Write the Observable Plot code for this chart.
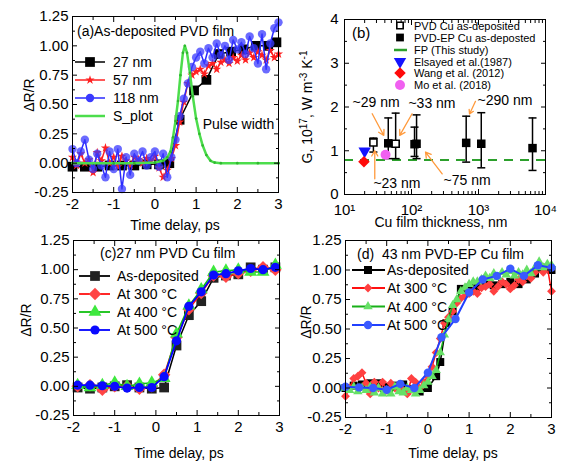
<!DOCTYPE html>
<html><head><meta charset="utf-8">
<script src="https://cdn.jsdelivr.net/npm/d3@7"></script>
<script src="https://cdn.jsdelivr.net/npm/@observablehq/plot@0.6"></script>
<style>
body{margin:0;background:#fff;}
#fig{position:relative;width:576px;height:469px;background:#fff;}
#fig > svg{position:absolute;overflow:visible;}
#fig [aria-label$="tick label"]{font-size:15px;font-weight:normal;}
#fig text{font-weight:normal;}
</style></head><body><div id="fig"></div>
<script>
// ---------------- DATA ----------------
// Panel (a)
const a27Time = [-2.0,-1.7,-1.4,-1.1,-0.8,-0.5,-0.2,0.1,0.35,0.6,0.95,1.25,1.55,1.85,2.15,2.45,2.75,2.95];
const a27Val  = [-0.03,-0.03,-0.03,-0.02,-0.02,-0.02,-0.01,-0.01,0.0,0.37,0.62,0.71,0.93,0.95,0.97,1.0,1.0,1.03];
const tFine = [-2.0,-1.9,-1.8,-1.7,-1.6,-1.5,-1.4,-1.3,-1.2,-1.1,-1.0,-0.9,-0.8,-0.7,-0.6,-0.5,-0.4,-0.3,-0.2,-0.1,0.0,0.1,0.2,0.3,0.4,0.5,0.6,0.7,0.8,0.9,1.0,1.1,1.2,1.3,1.4,1.5,1.6,1.7,1.8,1.9,2.0,2.1,2.2,2.3,2.4,2.5,2.6,2.7,2.8,2.9,3.0];
const a57Val = [0.05,-0.02,0.08,0.0,0.03,-0.08,0.09,0.02,0.13,0.0, 0.05,-0.03,0.06,0.02,-0.02,0.05,0.03,0.0,0.04,0.02, 0.06,-0.04,-0.12,-0.06,0.04,0.15,0.35,0.52,0.68,0.75, 0.78,0.8,0.76,0.83,0.85,0.8,0.86,0.88,0.85,0.9, 0.87,0.92,0.88,0.94,0.9,0.95,0.92,0.88,0.96,0.9, 0.93];
const a118Val = [0.12,0.0,0.1,0.2,0.03,-0.05,0.08,-0.02,-0.12,0.1, -0.05,0.12,-0.22,0.05,-0.1,0.08,0.02,0.1,-0.02,0.05, 0.1,-0.03,0.08,-0.12,0.05,0.2,0.4,0.55,0.68,0.82, 0.9,0.95,0.85,0.98,0.9,1.02,0.92,1.0,0.88,1.05, 0.97,1.03,0.93,1.08,0.98,0.85,1.1,0.8,1.02,1.15, 1.2];
const sTime = [-2.0,-1.0,-0.5,0.0,0.2,0.3,0.38,0.44,0.5,0.56,0.62,0.68,0.727,0.78,0.85,0.92,1.0,1.08,1.16,1.25,1.35,1.45,1.6,2.0,2.5,3.0];
const sVal  = [0,0,0,0.005,0.02,0.05,0.1,0.22,0.36,0.53,0.75,0.94,1.0,0.94,0.77,0.57,0.38,0.25,0.15,0.07,0.02,0.005,0,0,0,0];
const annotA = [{x: 1.16, y: 0.33, text: "Pulse width"}];

// Panel (b)
const pvdThick = [27, 58];
const pvdG = [1.19, 1.16];
const pvdLo = [0.97, 0.82];
const pvdHi = [1.29, 1.86];
const epThick = [45, 111, 119, 655, 1100, 6400];
const epG  = [1.17, 1.15, 1.16, 1.18, 1.16, 1.06];
const epLo = [0.82, 0.87, 0.82, 0.74, 0.61, 0.55];
const epHi = [1.75, 1.54, 1.82, 1.79, 1.87, 1.75];
const fpG = [0.79];
const elsayed = [{t: 20, g: 0.99}];
const wang = [{t: 19.5, g: 0.75}];
const mo = [{t: 41, g: 0.91}];
const labelsB = [
  {x: 13.2, y: 2.11, text: "~29 nm"},
  {x: 90, y: 2.08, text: "~33 nm"},
  {x: 966, y: 2.15, text: "~290 nm"},
  {x: 27, y: 0.25, text: "~23 nm"},
  {x: 301, y: 0.32, text: "~75 nm"}
];
const arrowsB = [
  {x1: 25.9, y1: 1.845, x2: 38.6, y2: 1.35},
  {x1: 102, y1: 1.845, x2: 66.8, y2: 1.35},
  {x1: 28.3, y1: 0.36, x2: 28.3, y2: 1.0},
  {x1: 287, y1: 0.47, x2: 162, y2: 0.97},
  {x1: 902, y1: 2.13, x2: 735, y2: 1.84}
];

// Panel (c)
const tC = [-1.9,-1.6,-1.3,-1.0,-0.7,-0.4,-0.1,0.2,0.5,0.8,1.1,1.4,1.7,2.0,2.3,2.6,2.9];
const cAsDep = [-0.01,-0.02,-0.01,0.0,0.01,-0.01,-0.02,-0.01,0.35,0.61,0.73,0.93,0.95,0.96,1.02,1.0,1.02];
const c300 = [0.0,0.01,-0.03,0.0,0.0,-0.02,0.0,0.1,0.42,0.66,0.8,0.95,0.94,0.97,0.99,1.02,1.0];
const c400 = [0.01,-0.01,0.01,0.03,0.0,0.02,0.03,0.07,0.45,0.69,0.83,0.98,0.99,1.0,0.98,0.98,1.04];
const c500 = [0.01,0.01,0.005,0.0,-0.015,-0.01,-0.01,0.083,0.39,0.686,0.81,0.954,0.966,0.99,1.01,1.0,1.02];

// Panel (d)
const tDAs = [-2.0,-1.8,-1.6,-1.4,-1.2,-1.0,-0.8,-0.6,-0.4,-0.2,0.0,0.2,0.3,0.45,0.6,0.8,1.0,1.2,1.4,1.6,1.8,2.0,2.2,2.4,2.6,2.8,3.0];
const dAsDep = [0.0,0.02,0.03,0.04,0.04,0.01,0.02,0.03,-0.01,-0.03,0.0,0.1,0.22,0.55,0.65,0.84,0.85,0.86,0.88,0.87,0.88,0.9,0.88,0.92,0.97,1.02,1.0];
const d300 = [-0.07,0.0,0.08,0.1,0.13,0.04,-0.05,0.05,0.0,0.05, -0.02,0.04,0.0,0.03,-0.02,-0.05,0.08,0.05,0.0,0.05, 0.1,0.18,0.3,0.42,0.55,0.6,0.65,0.72,0.76,0.78, 0.8,0.82,0.8,0.85,0.86,0.88,0.82,0.86,0.9,0.88, 0.84,0.87,0.92,0.9,0.95,0.93,0.98,1.05,0.98,1.02, 0.82];
const d400 = [0.0,-0.02,0.01,-0.03,0.0,-0.02,0.01,-0.04,0.0,-0.05, -0.02,-0.05,0.01,-0.03,-0.04,0.0,-0.02,-0.05,-0.02,0.02, 0.05,0.1,0.15,0.3,0.45,0.58,0.7,0.75,0.82,0.85, 0.88,0.9,0.9,0.92,0.95,0.93,0.97,0.94,0.98,0.96, 0.99,0.95,0.98,0.96,1.0,0.97,1.02,1.07,1.02,1.05, 1.04];
const tD500 = [-2.0,-1.67,-1.33,-1.0,-0.67,-0.33,0.0,0.33,0.67,1.0,1.33,1.67,2.0,2.33,2.67,3.0];
const d500 = [0.01,0.005,0.0,-0.015,0.035,0.0,0.13,0.43,0.585,0.81,0.92,0.95,1.01,0.95,1.04,1.02];

// Tick values
const timeMajor = [-2,-1,0,1,2,3];
const timeMinor = [-1.5,-0.5,0.5,1.5,2.5];
const drMajor = [-0.25,0,0.25,0.5,0.75,1,1.25];
const drMinor = [-0.125,0.125,0.375,0.625,0.875,1.125];
const thickMajor = [10,100,1000,10000];
const thickMinor = [20,30,40,50,60,70,80,90,200,300,400,500,600,700,800,900,2000,3000,4000,5000,6000,7000,8000,9000];
const gMajor = [0,1,2,3,4];
const gMinor = [0.5,1.5,2.5,3.5];

// ---------------- HELPERS ----------------
const FONT = '"Liberation Sans", Arial, Helvetica, sans-serif';
const zipT = (t, v) => t.map((d, i) => ({t: d, v: v[i]}));
const blank = () => "";
function boxAxes(xMaj, xMin, yMaj, yMin, xFmt, yFmt, xPad = 11, yPad = 9) {
  return [
    Plot.axisX(xMaj, {anchor: "bottom", tickSize: -5, tickPadding: xPad, tickFormat: xFmt, label: null, fontSize: 15}),
    Plot.axisX(xMin, {anchor: "bottom", tickSize: -3, tickFormat: blank, label: null}),
    Plot.axisX(xMaj, {anchor: "top", tickSize: -5, tickFormat: blank, label: null}),
    Plot.axisX(xMin, {anchor: "top", tickSize: -3, tickFormat: blank, label: null}),
    Plot.axisY(yMaj, {anchor: "left", tickSize: -5, tickPadding: yPad, tickFormat: yFmt, label: null, fontSize: 15}),
    Plot.axisY(yMin, {anchor: "left", tickSize: -3, tickFormat: blank, label: null}),
    Plot.axisY(yMaj, {anchor: "right", tickSize: -5, tickFormat: blank, label: null}),
    Plot.axisY(yMin, {anchor: "right", tickSize: -3, tickFormat: blank, label: null})
  ];
}
const baseStyle = {background: "transparent", fontFamily: FONT, fontSize: "15px", overflow: "visible", color: "black"};
const fmt2 = d => d.toFixed(2);
const fmtInt = d => String(d);
const sup = {1: "¹", 2: "²", 3: "³", 4: "⁴"};
const fmtPow = d => "10" + sup[Math.round(Math.log10(d))];
const capSym = {draw(ctx, size) { const w = Math.sqrt(size / Math.PI); ctx.moveTo(-w, 0); ctx.lineTo(w, 0); }};
const fig = document.getElementById("fig");
function place(svg, left, top) { svg.style.left = left + "px"; svg.style.top = top + "px"; fig.appendChild(svg); }

// ---------------- PANEL A ----------------
const dA27 = zipT(a27Time, a27Val), dA57 = zipT(tFine, a57Val), dA118 = zipT(tFine, a118Val), dS = zipT(sTime, sVal);
place(Plot.plot({
  width: 288, height: 234, marginTop: 16, marginLeft: 72, marginRight: 10, marginBottom: 42,
  x: {domain: [-2, 3]}, y: {domain: [-0.25, 1.25]}, style: baseStyle,
  marks: [
    Plot.line(dA27, {x: "t", y: "v", stroke: "black", strokeWidth: 1.5}),
    Plot.dot(dA27, {x: "t", y: "v", symbol: "square", r: 5.5, fill: "black"}),
    Plot.line(dA57, {x: "t", y: "v", stroke: "#ff2020", strokeWidth: 1.5}),
    Plot.dot(dA57, {x: "t", y: "v", symbol: "star", r: 2.9, fill: "#ff2020"}),
    Plot.line(dA118, {x: "t", y: "v", stroke: "#2a2aff", strokeWidth: 1.5}),
    Plot.dot(dA118, {x: "t", y: "v", symbol: "circle", r: 4.2, fill: "#3a3aff", fillOpacity: 0.75}),
    Plot.line(dS, {x: "t", y: "v", stroke: "#4cdd4c", strokeWidth: 2.5}),
    Plot.dot(dS, {x: "t", y: "v", r: 1.3, fill: "#2fb82f"}),
    Plot.text(annotA, {x: "x", y: "y", text: "text", textAnchor: "start", fontSize: 14}),
    ...boxAxes(timeMajor, timeMinor, drMajor, drMinor, fmtInt, fmt2),
    Plot.frame({stroke: "black"})
  ]
}), 0, 0);

// ---------------- PANEL B ----------------
const dPvd = pvdThick.map((t, i) => ({t, g: pvdG[i], lo: pvdLo[i], hi: pvdHi[i]}));
const dEp = epThick.map((t, i) => ({t, g: epG[i], lo: epLo[i], hi: epHi[i]}));
place(Plot.plot({
  width: 288, height: 234, marginTop: 19, marginLeft: 56, marginRight: 31, marginBottom: 40,
  x: {type: "log", domain: [10, 10000]}, y: {domain: [0, 4]}, style: baseStyle,
  marks: [
    Plot.ruleY(fpG, {stroke: "#2ca02c", strokeWidth: 2, strokeDasharray: "9,7"}),
    Plot.ruleX(dEp, {x: "t", y1: "lo", y2: "hi", stroke: "black", strokeWidth: 1.5}),
    Plot.dot(dEp, {x: "t", y: "lo", symbol: capSym, r: 4, stroke: "black", strokeWidth: 1.5}),
    Plot.dot(dEp, {x: "t", y: "hi", symbol: capSym, r: 4, stroke: "black", strokeWidth: 1.5}),
    Plot.ruleX(dPvd, {x: "t", y1: "lo", y2: "hi", stroke: "black", strokeWidth: 1.5}),
    Plot.dot(dPvd, {x: "t", y: "lo", symbol: capSym, r: 4, stroke: "black", strokeWidth: 1.5}),
    Plot.dot(dPvd, {x: "t", y: "hi", symbol: capSym, r: 4, stroke: "black", strokeWidth: 1.5}),
    Plot.dot(dEp, {x: "t", y: "g", symbol: "square", r: 4.8, fill: "black"}),
    Plot.dot(dPvd, {x: "t", y: "g", symbol: "square", r: 4, fill: "white", stroke: "black", strokeWidth: 1.6}),
    Plot.dot(elsayed, {x: "t", y: "g", symbol: "triangle", rotate: 180, r: 4.6, fill: "#1414ff"}),
    Plot.dot(wang, {x: "t", y: "g", symbol: "diamond2", r: 5.2, fill: "#ff0a0a"}),
    Plot.dot(mo, {x: "t", y: "g", symbol: "circle", r: 5, fill: "#f060f0"}),
    Plot.arrow(arrowsB, {x1: "x1", y1: "y1", x2: "x2", y2: "y2", stroke: "#ff9a3c", strokeWidth: 1.3, headLength: 7}),
    Plot.text(labelsB, {x: "x", y: "y", text: "text", textAnchor: "start", fontSize: 14}),
    ...boxAxes(thickMajor, thickMinor, gMajor, gMinor, fmtPow, fmtInt, 15, 11),
    Plot.frame({stroke: "black"})
  ]
}), 288, 0);

// ---------------- PANEL C ----------------
const dC = [zipT(tC, cAsDep), zipT(tC, c300), zipT(tC, c400), zipT(tC, c500)];
place(Plot.plot({
  width: 288, height: 235, marginTop: 6, marginLeft: 73, marginRight: 9, marginBottom: 54,
  x: {domain: [-2, 3]}, y: {domain: [-0.25, 1.25]}, style: baseStyle,
  marks: [
    Plot.line(dC[0], {x: "t", y: "v", stroke: "black", strokeWidth: 1.5}),
    Plot.dot(dC[0], {x: "t", y: "v", symbol: "square", r: 5.5, fill: "#222"}),
    Plot.line(dC[1], {x: "t", y: "v", stroke: "#ff1010", strokeWidth: 1.5}),
    Plot.dot(dC[1], {x: "t", y: "v", symbol: "diamond2", r: 5.6, fill: "#ff4545"}),
    Plot.line(dC[2], {x: "t", y: "v", stroke: "#10c010", strokeWidth: 1.5}),
    Plot.dot(dC[2], {x: "t", y: "v", symbol: "triangle", r: 4.8, fill: "#3ee83e"}),
    Plot.line(dC[3], {x: "t", y: "v", stroke: "#0000ff", strokeWidth: 1.8}),
    Plot.dot(dC[3], {x: "t", y: "v", symbol: "circle", r: 4.6, fill: "#0a0aff"}),
    ...boxAxes(timeMajor, timeMinor, drMajor, drMinor, fmtInt, fmt2),
    Plot.frame({stroke: "black"})
  ]
}), 0, 234);

// ---------------- PANEL D ----------------
const dDAs = zipT(tDAs, dAsDep), dD300 = zipT(tFine, d300), dD400 = zipT(tFine, d400), dD500 = zipT(tD500, d500);
place(Plot.plot({
  width: 288, height: 235, marginTop: 6, marginLeft: 57, marginRight: 25, marginBottom: 52,
  x: {domain: [-2, 3]}, y: {domain: [-0.25, 1.25]}, style: baseStyle,
  marks: [
    Plot.line(dDAs, {x: "t", y: "v", stroke: "black", strokeWidth: 1.5}),
    Plot.dot(dDAs, {x: "t", y: "v", symbol: "square", r: 4.5, fill: "black"}),
    Plot.line(dD300, {x: "t", y: "v", stroke: "#ff1010", strokeWidth: 1.5}),
    Plot.dot(dD300, {x: "t", y: "v", symbol: "diamond2", r: 4, fill: "#ff4040"}),
    Plot.line(dD400, {x: "t", y: "v", stroke: "#18b018", strokeWidth: 1.5}),
    Plot.dot(dD400, {x: "t", y: "v", symbol: "triangle", r: 3.5, fill: "#66e066"}),
    Plot.line(dD500, {x: "t", y: "v", stroke: "#2040ff", strokeWidth: 2}),
    Plot.dot(dD500, {x: "t", y: "v", symbol: "circle", r: 4.2, fill: "#3a5aff"}),
    ...boxAxes(timeMajor, timeMinor, drMajor, drMinor, fmtInt, fmt2),
    Plot.frame({stroke: "black"})
  ]
}), 288, 234);

// ---------------- OVERLAY: titles, axis titles, legends ----------------
const ov = d3.create("svg").attr("width", 576).attr("height", 469)
  .style("left", "0px").style("top", "0px").style("font-family", FONT);
fig.appendChild(ov.node());
function txt(x, y, s, size = 14, anchor = "start", rot = 0) {
  return ov.append("text").attr("transform", `translate(${x},${y}) rotate(${rot})`)
    .attr("text-anchor", anchor).attr("font-size", size).attr("font-weight", "normal").attr("fill", "black").text(s);
}
function sym(type, x, y, r, fill, stroke = "none", sw = 0, rot = 0, op = 1) {
  ov.append("path").attr("d", d3.symbol(type, Math.PI * r * r)())
    .attr("transform", `translate(${x},${y}) rotate(${rot})`)
    .attr("fill", fill).attr("fill-opacity", op).attr("stroke", stroke).attr("stroke-width", sw);
}
function seg(x0, x1, y, color, w = 1.5) {
  ov.append("line").attr("x1", x0).attr("x2", x1).attr("y1", y).attr("y2", y)
    .attr("stroke", color).attr("stroke-width", w);
}

// Panel A texts
txt(77, 36, "(a)As-deposited PVD film", 14);
const legA = [
  {y: 62, c: "black", s: d3.symbolSquare, r: 5.5, f: "black", t: "27 nm"},
  {y: 80, c: "#ff2020", s: d3.symbolStar, r: 2.9, f: "#ff2020", t: "57 nm"},
  {y: 98, c: "#2a2aff", s: d3.symbolCircle, r: 4.2, f: "#3a3aff", t: "118 nm"},
  {y: 116, c: "#4cdd4c", s: null, t: "S_plot"}
];
legA.forEach(d => {
  seg(75, 105, d.y, d.c, d.s ? 1.5 : 2.5);
  if (d.s) sym(d.s, 90, d.y, d.r, d.f);
  txt(113, d.y + 5, d.t, 14);
});
txt(175, 230, "Time delay, ps", 14, "middle");
txt(34, 95, "ΔR/R", 14, "middle", -90);

// Panel B texts
txt(352, 38, "(b)", 15);
sym(d3.symbolSquare, 400, 25.5, 3.6, "white", "black", 1.6);
sym(d3.symbolSquare, 400, 37.5, 4.4, "black");
seg(394, 407, 50, "#2ca02c", 2.5);
sym(d3.symbolTriangle, 400, 61.5, 4.6, "#1414ff", "none", 0, 180);
sym(d3.symbolDiamond2, 400, 73, 5.2, "#ff0a0a");
sym(d3.symbolCircle, 400, 85, 5, "#f060f0");
[["PVD Cu as-deposited", 25.5], ["PVD-EP Cu as-deposted", 37.5], ["FP (This study)", 50],
 ["Elsayed et al.(1987)", 61.5], ["Wang et al. (2012)", 73], ["Mo et al. (2018)", 85]]
  .forEach(([s, y]) => txt(414, y + 4, s, 11));
txt(441, 227, "Cu film thickness, nm", 14, "middle");
const yb = txt(312, 107, "", 14, "middle", -90);
yb.append("tspan").text("G, 10");
yb.append("tspan").attr("dy", -5).attr("font-size", 10).text("17");
yb.append("tspan").attr("dy", 5).text(", W m");
yb.append("tspan").attr("dy", -5).attr("font-size", 10).text("-3");
yb.append("tspan").attr("dy", 5).text(" K");
yb.append("tspan").attr("dy", -5).attr("font-size", 10).text("-1");

// Panel C texts
txt(100, 258, "(c)27 nm PVD Cu film", 14);
const legC = [
  {y: 276, c: "black", s: d3.symbolSquare, r: 5.5, f: "#222", t: "As-deposited"},
  {y: 294, c: "#ff1010", s: d3.symbolDiamond2, r: 5.6, f: "#ff4545", t: "At 300 °C"},
  {y: 312, c: "#10c010", s: d3.symbolTriangle, r: 4.8, f: "#3ee83e", t: "At 400 °C"},
  {y: 330, c: "#0000ff", s: d3.symbolCircle, r: 4.6, f: "#0a0aff", t: "At 500 °C"}
];
legC.forEach(d => { seg(79, 110, d.y, d.c, 1.8); sym(d.s, 95, d.y, d.r, d.f); txt(117, d.y + 5, d.t, 14); });
txt(179, 458, "Time delay, ps", 14, "middle");
txt(31, 320, "ΔR/R", 14, "middle", -90);

// Panel D texts
txt(357, 259, "(d)\u00a0 43 nm PVD-EP Cu film", 14);
const legD = [
  {y: 270, c: "black", s: d3.symbolSquare, r: 4.5, f: "black", t: "As-deposited"},
  {y: 288, c: "#ff1010", s: d3.symbolDiamond2, r: 4, f: "#ff4040", t: "At 300 °C"},
  {y: 306.5, c: "#18b018", s: d3.symbolTriangle, r: 3.5, f: "#66e066", t: "At 400 °C"},
  {y: 325, c: "#2040ff", s: d3.symbolCircle, r: 4.2, f: "#3a5aff", t: "At 500 °C"}
];
legD.forEach(d => { seg(352, 385, d.y, d.c, 1.8); sym(d.s, 368, d.y, d.r, d.f); txt(387, d.y + 5, d.t, 14); });
txt(453, 458, "Time delay, ps", 14, "middle");
txt(311, 322, "ΔR/R", 14, "middle", -90);
</script>
</body></html>
